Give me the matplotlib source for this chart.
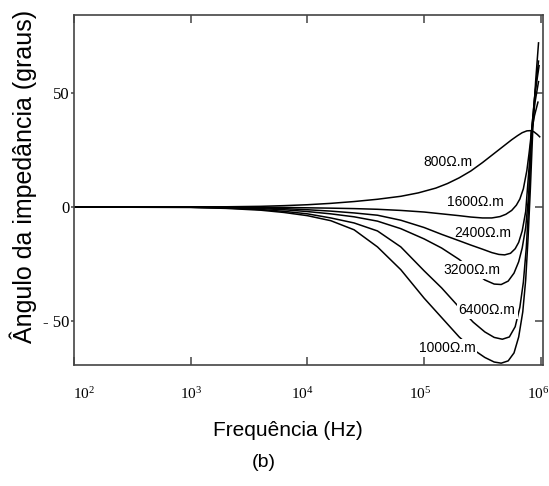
import numpy as np
import matplotlib
matplotlib.use('Agg')
import matplotlib.pyplot as plt
from matplotlib.ticker import NullLocator
from matplotlib.transforms import ScaledTranslation

plt.rcParams['font.family'] = 'Liberation Serif'
plt.rcParams['mathtext.fontset'] = 'custom'
plt.rcParams['mathtext.rm'] = 'Liberation Serif'
plt.rcParams['mathtext.it'] = 'Liberation Serif:italic'

# log10 of frequency (Hz) and impedance angle (degrees)
log_f_800 = [2.0, 3.0, 3.3, 3.6, 3.8, 4.0, 4.2, 4.4, 4.6, 4.8, 4.95, 5.1, 5.2, 5.3, 5.4, 5.5,
             5.6, 5.68, 5.75, 5.8, 5.84, 5.88, 5.91, 5.94, 5.97, 5.99]
ang_800 = [0, 0, 0.1, 0.3, 0.6, 1.0, 1.6, 2.4, 3.4, 4.7, 6.2, 8.3, 10.3, 12.8, 15.8, 19.5,
           23.5, 26.7, 29.5, 31.3, 32.6, 33.4, 33.5, 33.0, 31.8, 30.8]

log_f_1600 = [2, 3, 3.3, 3.6, 3.8, 4.0, 4.2, 4.4, 4.6, 4.8, 5.0, 5.15, 5.3, 5.4, 5.5, 5.58,
              5.65, 5.7, 5.75, 5.79, 5.82, 5.85, 5.88, 5.9, 5.92, 5.945, 5.975]
ang_1600 = [0, 0, -0.05, -0.1, -0.2, -0.35, -0.5, -0.7, -1.0, -1.5, -2.2, -3.0, -3.8, -4.4, -4.8, -4.8,
            -4.2, -3.2, -1.5, 0.8, 3.5, 8, 16, 24, 33, 40, 46]

log_f_2400 = [2, 3, 3.3, 3.6, 3.8, 4.0, 4.2, 4.4, 4.6, 4.8, 5.0, 5.15, 5.3, 5.4, 5.5, 5.58,
              5.64, 5.69, 5.74, 5.78, 5.81, 5.84, 5.87, 5.9, 5.92, 5.95, 5.98]
ang_2400 = [0, 0, -0.1, -0.4, -0.7, -1.2, -1.8, -2.6, -3.6, -5.8, -9, -12, -14.8, -16.7, -18.5, -20,
            -20.8, -21, -20.3, -18.3, -15.5, -10.5, -2, 18, 33, 46, 55]

log_f_3200 = [2, 3, 3.3, 3.6, 3.8, 4.0, 4.2, 4.4, 4.6, 4.8, 5.0, 5.15, 5.3, 5.42, 5.52, 5.6,
              5.66, 5.72, 5.77, 5.81, 5.84, 5.87, 5.895, 5.92, 5.95, 5.985]
ang_3200 = [0, -0.1, -0.3, -0.7, -1.2, -2, -3, -4.3, -6.2, -9.5, -14, -18, -23, -28, -32, -33.8,
            -34, -32.5, -29, -24, -18, -9, 5, 33, 50, 62]

log_f_6400 = [2, 3, 3.3, 3.6, 3.8, 4.0, 4.2, 4.4, 4.6, 4.8, 5.0, 5.15, 5.3, 5.42, 5.52, 5.6,
              5.67, 5.73, 5.78, 5.82, 5.85, 5.875, 5.9, 5.92, 5.95, 5.98]
ang_6400 = [0, -0.1, -0.4, -1.1, -1.9, -3, -4.8, -7, -10.5, -17.5, -28, -35.5, -44, -50.5, -54.8, -57.2,
            -58, -57, -52.5, -44, -33, -18, 5, 33, 50, 64]

log_f_1000 = [2, 3, 3.3, 3.6, 3.8, 4.0, 4.2, 4.4, 4.6, 4.8, 5.0, 5.15, 5.3, 5.42, 5.52, 5.6,
              5.66, 5.72, 5.77, 5.81, 5.845, 5.87, 5.89, 5.91, 5.93, 5.955, 5.98]
ang_1000 = [0, -0.2, -0.6, -1.4, -2.4, -3.8, -6, -10, -17.5, -27.5, -40, -48.5, -57, -62.5, -66, -68,
            -68.5, -67.5, -64, -57, -46, -32, -14, 8, 33, 55, 72]

curves = [
    (log_f_800, ang_800),
    (log_f_1600, ang_1600),
    (log_f_2400, ang_2400),
    (log_f_3200, ang_3200),
    (log_f_6400, ang_6400),
    (log_f_1000, ang_1000),
]

x_ticks = [1e2, 1e3, 1e4, 1e5, 1e6]
y_ticks = [-50, 0, 50]
y_tick_labels = ['- 50', '0', '50']

fig = plt.figure(figsize=(5.49, 4.86), dpi=100)
ax = fig.add_axes([0.1348, 0.249, 0.854, 0.720])

for lf, ang in curves:
    ax.plot(10 ** np.array(lf), ang, color='black', lw=1.1, zorder=2)

ax.set_xscale('log')
ax.set_xlim(1e2, 1.04e6)
ax.set_ylim(-69.3, 84.2)
ax.set_xticks(x_ticks)
ax.xaxis.set_minor_locator(NullLocator())
ax.set_yticks(y_ticks)
ax.set_yticklabels(y_tick_labels)

ax.tick_params(axis='x', direction='in', top=True, length=6, width=1.1,
               color='#444444', labelsize=11, pad=15)
ax.tick_params(axis='y', direction='out', left=True, right=False, length=2.5,
               width=1.1, color='#444444', labelsize=12, pad=1)
sec = ax.secondary_yaxis('right')
sec.set_yticks(y_ticks)
sec.tick_params(direction='in', length=6, width=1.1, color='#444444', labelright=False)
sec.spines['right'].set_visible(False)

# small horizontal nudges so tick labels sit as in the original
for lab, dx in zip(ax.get_xticklabels(), [10, 0, -5, -4, -3]):
    lab.set_transform(lab.get_transform() + ScaledTranslation(dx / 100, 0, fig.dpi_scale_trans))

for s in ax.spines.values():
    s.set_color('#444444')
    s.set_linewidth(1.2)

lab_font = dict(family='Liberation Sans', fontsize=10)
white = dict(facecolor='white', edgecolor='none', pad=1.5)
ax.text(10 ** 5.20, 19.7, '800Ω.m', ha='center', va='center', **lab_font)
ax.text(10 ** 5.435, 2.2, '1600Ω.m', ha='center', va='center', **lab_font)
ax.text(10 ** 5.50, -11.4, '2400Ω.m', ha='center', va='center', **lab_font)
ax.text(10 ** 5.41, -27.6, '3200Ω.m', ha='center', va='center', bbox=white, zorder=3, **lab_font)
ax.text(10 ** 5.54, -45.2, '6400Ω.m', ha='center', va='center', bbox=white, zorder=3, **lab_font)
ax.text(10 ** 5.195, -61.8, '1000Ω.m', ha='center', va='center', bbox=white, zorder=3, **lab_font)

fig.text(0.525, 0.115, 'Frequência (Hz)', ha='center', va='center',
         family='Liberation Sans', fontsize=15)
fig.text(0.043, 0.636, 'Ângulo da impedância (graus)', ha='center', va='center',
         rotation=90, family='Liberation Sans', fontsize=18)
fig.text(0.48, 0.049, '(b)', ha='center', va='center', family='Liberation Sans', fontsize=14)

fig.savefig('out.png', dpi=100)
